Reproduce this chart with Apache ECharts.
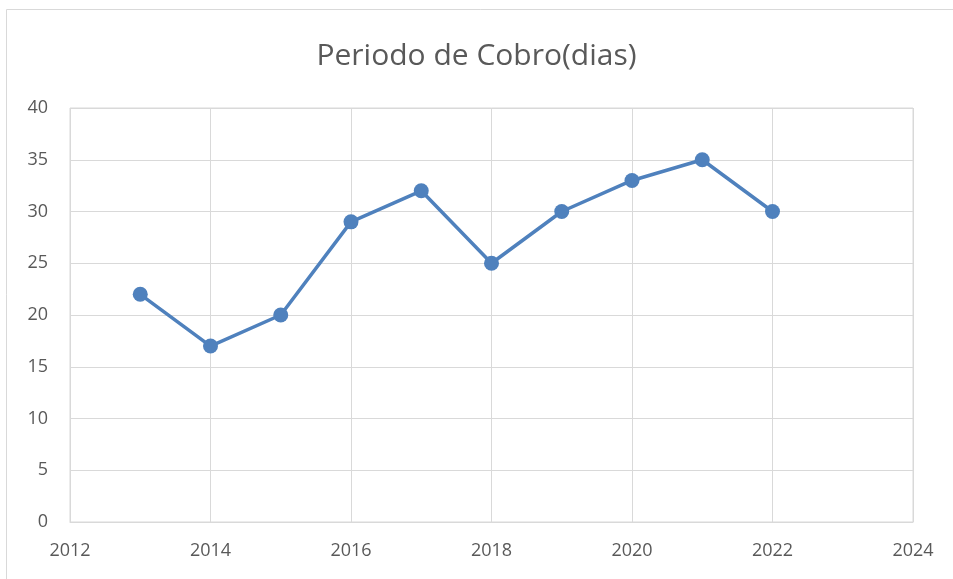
<!DOCTYPE html>
<html>
<head>
<meta charset="utf-8">
<script src="https://cdn.jsdelivr.net/npm/echarts@6/dist/echarts.min.js"></script>
<style>
  html, body { margin: 0; padding: 0; background: #fff; }
  #chart { width: 953px; height: 579px; }
</style>
</head>
<body>
<div id="chart"></div>
<script>
// datos
const years = [2013, 2014, 2015, 2016, 2017, 2018, 2019, 2020, 2021, 2022];
const dias = [22, 17, 20, 29, 32, 25, 30, 33, 35, 30];

const chart = echarts.init(document.getElementById("chart"));
const textColor = "#595959";
const gridColor = "#d9d9d9";

chart.setOption({
  animation: false,
  title: {
    text: "Periodo de Cobro(dias)",
    left: "center",
    top: 36,
    textStyle: { color: textColor, fontSize: 30, fontWeight: "normal", fontFamily: "Open Sans" },
  },
  graphic: [
    {
      type: "rect",
      shape: { x: 6.5, y: 9.5, width: 1000, height: 1000 },
      style: { fill: "none", stroke: gridColor, lineWidth: 1 },
      silent: true,
    },
  ],
  grid: { left: 70, right: 40, top: 108, bottom: 57, show: true, borderColor: gridColor, borderWidth: 1 },
  xAxis: {
    type: "value",
    min: 2012,
    max: 2024,
    interval: 2,
    axisLine: { show: true, lineStyle: { color: gridColor } },
    axisTick: { show: false },
    splitLine: { show: true, lineStyle: { color: gridColor, width: 1 } },
    axisLabel: { color: textColor, fontSize: 18, margin: 20, fontFamily: "Open Sans", formatter: (v) => String(v) },
  },
  yAxis: {
    type: "value",
    min: 0,
    max: 40,
    interval: 5,
    axisLine: { show: false },
    axisTick: { show: false },
    splitLine: { show: true, lineStyle: { color: gridColor, width: 1 } },
    axisLabel: { color: textColor, fontSize: 18, margin: 22, fontFamily: "Open Sans" },
  },
  series: [
    {
      type: "line",
      data: years.map((y, i) => [y, dias[i]]),
      symbol: "circle",
      symbolSize: 15,
      lineStyle: { color: "#4f81bd", width: 3.5 },
      itemStyle: { color: "#4f81bd" },
    },
  ],
});
</script>
</body>
</html>
